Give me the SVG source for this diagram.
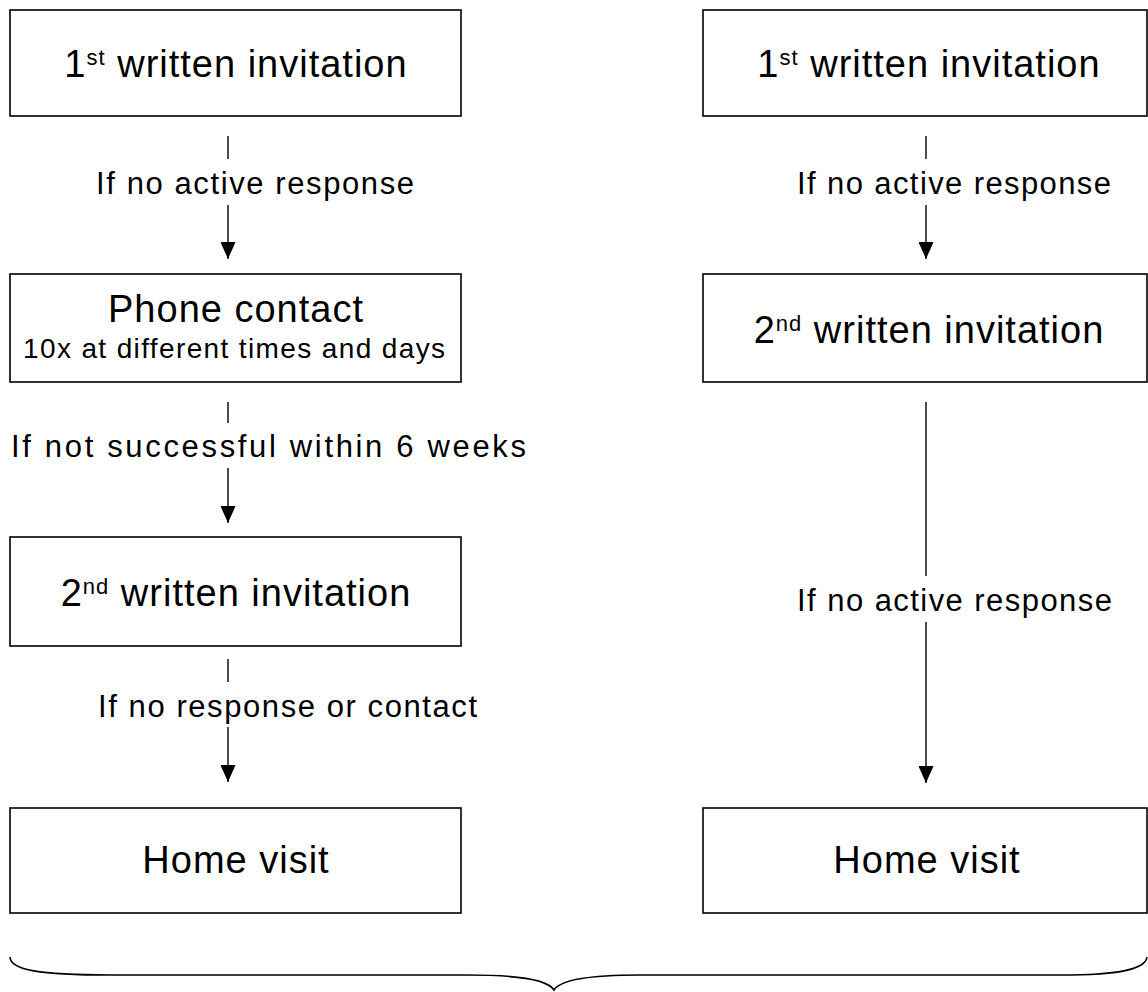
<svg xmlns="http://www.w3.org/2000/svg" width="1148" height="992" viewBox="0 0 1148 992">
<style>
.box{fill:#fff;stroke:#000;stroke-width:1.6}
.t{font-family:"Liberation Sans",Arial,sans-serif;font-size:38px;fill:#000;text-anchor:middle;letter-spacing:1px}
.s{font-family:"Liberation Sans",Arial,sans-serif;font-size:28px;fill:#000}
.l{font-family:"Liberation Sans",Arial,sans-serif;font-size:31px;fill:#000}
.sup{font-size:22px}
.c{stroke:#000;stroke-width:1.4;fill:none}
.brace{stroke:#000;stroke-width:1.6;fill:none}
</style>
<defs>
<marker id="ah" markerWidth="18" markerHeight="15" refX="17" refY="7.5" orient="auto" markerUnits="userSpaceOnUse">
<path d="M0,0 L17,7.5 L0,15 Z" fill="#000"/>
</marker>
</defs>
<rect width="1148" height="992" fill="#fff"/>
<g id="L1"><rect class="box" x="10" y="10" width="451" height="106"/><text class="t" x="236" y="77">1<tspan class="sup" dy="-12">st</tspan><tspan dy="12"> written invitation</tspan></text></g>
<g id="L2"><rect class="box" x="10" y="274" width="451" height="108"/><text class="t" x="236" y="322">Phone contact</text><text class="s" x="23" y="358" textLength="422" lengthAdjust="spacing">10x at different times and days</text></g>
<g id="L3"><rect class="box" x="10" y="537" width="451" height="109"/><text class="t" x="236" y="606">2<tspan class="sup" dy="-12">nd</tspan><tspan dy="12"> written invitation</tspan></text></g>
<g id="L4"><rect class="box" x="10" y="808" width="451" height="105"/><text class="t" x="236" y="873">Home visit</text></g>
<g id="R1"><rect class="box" x="703" y="10" width="444" height="106"/><text class="t" x="929" y="77">1<tspan class="sup" dy="-12">st</tspan><tspan dy="12"> written invitation</tspan></text></g>
<g id="R2"><rect class="box" x="703" y="274" width="444" height="108"/><text class="t" x="929" y="343">2<tspan class="sup" dy="-12">nd</tspan><tspan dy="12"> written invitation</tspan></text></g>
<g id="R3"><rect class="box" x="703" y="808" width="444" height="105"/><text class="t" x="927" y="873">Home visit</text></g>
<g id="connectors">
<line class="c" x1="228" y1="136" x2="228" y2="159"/>
<line class="c" x1="228" y1="205" x2="228" y2="259" marker-end="url(#ah)"/>
<text class="l" x="96" y="194" textLength="318" lengthAdjust="spacing">If no active response</text>
<line class="c" x1="926" y1="136" x2="926" y2="159"/>
<line class="c" x1="926" y1="205" x2="926" y2="259" marker-end="url(#ah)"/>
<text class="l" x="797" y="194" textLength="314" lengthAdjust="spacing">If no active response</text>
<line class="c" x1="228" y1="402" x2="228" y2="423"/>
<line class="c" x1="228" y1="468" x2="228" y2="523" marker-end="url(#ah)"/>
<text class="l" x="11" y="457" textLength="515" lengthAdjust="spacing">If not successful within 6 weeks</text>
<line class="c" x1="228" y1="659" x2="228" y2="682"/>
<line class="c" x1="228" y1="727" x2="228" y2="782" marker-end="url(#ah)"/>
<text class="l" x="98" y="717" textLength="379" lengthAdjust="spacing">If no response or contact</text>
<line class="c" x1="926" y1="402" x2="926" y2="576"/>
<line class="c" x1="926" y1="622" x2="926" y2="783" marker-end="url(#ah)"/>
<text class="l" x="797" y="611" textLength="315" lengthAdjust="spacing">If no active response</text>
</g>
<path id="brace" class="brace" d="M10,957 C10,970 40,975 110,975 L468,975 C520,975 548,980 554,990 C560,980 588,975 640,975 L1060,975 C1125,975 1146,968 1147,957"/>
</svg>
